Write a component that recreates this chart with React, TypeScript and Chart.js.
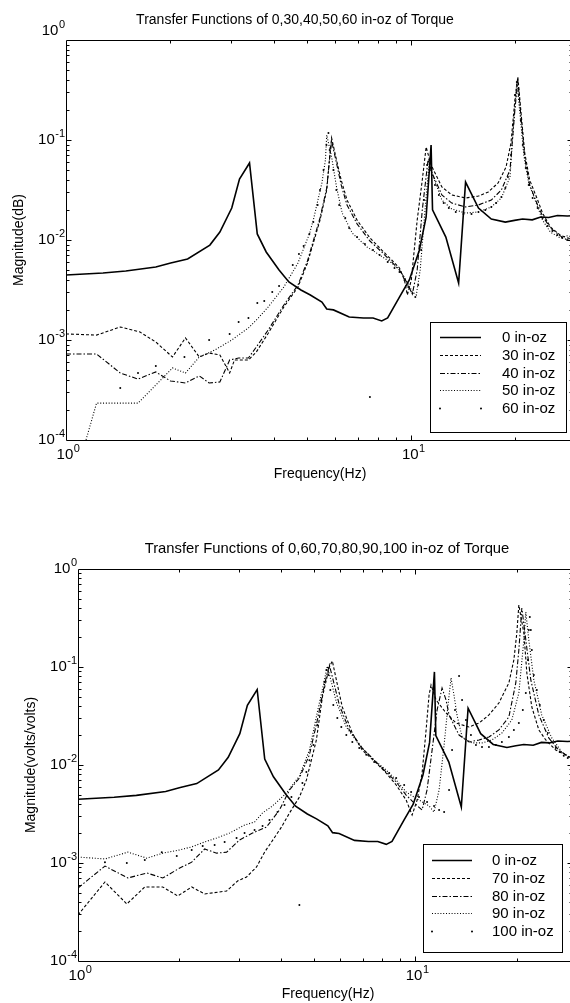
import React, { useEffect, useRef } from "react";
import { Chart, registerables } from "chart.js";

Chart.register(...registerables);

// ---------------- data (frequency in Hz, magnitude) ----------------
// 0 in-oz (same measurement in both plots)
const freq0 = [1.0, 1.28, 1.49, 1.82, 2.01, 2.25, 2.61, 2.79, 3.02, 3.18, 3.4, 3.58, 3.8, 4.14, 4.42, 4.79, 5.1, 5.51, 5.69, 5.95, 6.61, 7.27, 7.75, 8.21, 8.54, 9.24, 9.87, 10.55, 11.04, 11.41, 11.52, 12.59, 13.71, 14.36, 15.65, 17.05, 18.72, 19.9, 21.0, 22.4, 23.7, 25.0, 26.5, 28.3, 29.2];
const mag0 = [0.00447, 0.00468, 0.0049, 0.00537, 0.00589, 0.00646, 0.0089, 0.012, 0.0209, 0.0407, 0.0589, 0.0115, 0.00759, 0.00501, 0.0038, 0.00316, 0.00282, 0.0024, 0.00204, 0.002, 0.0017, 0.00166, 0.00166, 0.00155, 0.00166, 0.00269, 0.00398, 0.0079, 0.017, 0.0891, 0.02, 0.0107, 0.00372, 0.038, 0.0209, 0.0162, 0.0151, 0.0157, 0.0162, 0.0159, 0.017, 0.0168, 0.0176, 0.0174, 0.0175];

// top plot
const freq30 = [1.0, 1.226, 1.436, 1.638, 1.82, 2.034, 2.218, 2.432, 2.597, 2.79, 2.978, 3.076, 3.375, 3.558, 3.852, 4.275, 4.697, 5.003, 5.44, 5.69, 5.802, 5.878, 6.073, 6.265, 6.514, 6.965, 7.588, 8.21, 8.773, 9.243, 9.551, 9.74, 10.0, 10.4, 10.76, 11.04, 11.41, 12.26, 13.1, 14.36, 15.65, 16.71, 17.84, 18.81, 19.44, 19.95, 20.35, 20.75, 21.31, 22.02, 23.22, 23.99, 25.28, 27.0, 28.28, 29.2];
const mag30 = [0.00115, 0.00112, 0.00135, 0.0012, 0.000955, 0.000676, 0.00105, 0.000676, 0.000741, 0.000708, 0.000468, 0.000631, 0.000631, 0.000759, 0.00117, 0.00214, 0.00339, 0.00589, 0.0158, 0.0316, 0.0676, 0.105, 0.0631, 0.0398, 0.0251, 0.0158, 0.0105, 0.00794, 0.00631, 0.00525, 0.00398, 0.00282, 0.00398, 0.0158, 0.0398, 0.0851, 0.0562, 0.0339, 0.0282, 0.0263, 0.0275, 0.0302, 0.0372, 0.0537, 0.0933, 0.251, 0.427, 0.2, 0.0741, 0.0398, 0.0251, 0.0186, 0.0135, 0.0112, 0.0105, 0.0102];

const freq40 = [1.0, 1.226, 1.436, 1.616, 1.82, 2.008, 2.218, 2.432, 2.597, 2.79, 2.978, 3.162, 3.375, 3.558, 3.852, 4.275, 4.697, 5.003, 5.44, 5.69, 5.802, 5.878, 6.073, 6.265, 6.514, 6.965, 7.588, 8.21, 8.773, 9.243, 9.551, 9.87, 10.07, 10.4, 10.76, 11.18, 11.45, 12.26, 13.1, 14.36, 15.65, 17.05, 18.23, 19.31, 19.95, 20.35, 20.75, 21.31, 22.02, 23.22, 23.99, 25.28, 27.0, 28.28, 29.2];
const mag40 = [0.000724, 0.000724, 0.000468, 0.000407, 0.000479, 0.000389, 0.000372, 0.000437, 0.000372, 0.00038, 0.000631, 0.000661, 0.000661, 0.000851, 0.00126, 0.00224, 0.00355, 0.00617, 0.0166, 0.0331, 0.0661, 0.0977, 0.0589, 0.0355, 0.0224, 0.0145, 0.00977, 0.00759, 0.00603, 0.00501, 0.00417, 0.00331, 0.00288, 0.00501, 0.02, 0.0631, 0.0479, 0.0282, 0.0234, 0.0214, 0.0224, 0.0251, 0.0316, 0.0501, 0.2, 0.398, 0.178, 0.0661, 0.0355, 0.0224, 0.0174, 0.0132, 0.011, 0.01, 0.0098];

const freq50 = [1.0, 1.226, 1.616, 1.82, 2.034, 2.218, 2.432, 2.698, 3.02, 3.375, 3.605, 3.852, 4.275, 4.697, 5.068, 5.202, 5.509, 5.64, 5.69, 5.878, 6.073, 6.307, 6.75, 7.447, 8.097, 8.773, 9.243, 9.74, 10.07, 10.34, 10.61, 10.96, 11.26, 11.52, 12.26, 13.1, 14.36, 15.65, 17.05, 18.23, 19.31, 19.82, 20.21, 20.62, 21.17, 21.88, 23.22, 23.99, 25.28, 27.0, 28.28, 29.2];
const mag50 = [0.00002, 0.000234, 0.000234, 0.000355, 0.000525, 0.000468, 0.000676, 0.000794, 0.001, 0.00132, 0.00166, 0.00214, 0.00339, 0.00589, 0.0115, 0.0158, 0.0372, 0.0631, 0.112, 0.0676, 0.0339, 0.0186, 0.0117, 0.00851, 0.00708, 0.00589, 0.00501, 0.0038, 0.00302, 0.00282, 0.00501, 0.02, 0.0589, 0.0447, 0.0251, 0.0204, 0.0186, 0.0191, 0.0214, 0.0263, 0.0427, 0.158, 0.38, 0.19, 0.0708, 0.0372, 0.0214, 0.0158, 0.012, 0.0105, 0.011, 0.0108];

const freq60 = [1.436, 1.616, 1.82, 2.203, 2.597, 2.978, 3.162, 3.375, 3.581, 3.751, 3.957, 4.14, 4.536, 4.728, 4.877, 5.068, 5.202, 5.354, 5.44, 5.568, 5.679, 5.754, 5.802, 5.948, 6.066, 6.183, 6.438, 6.607, 6.965, 7.339, 7.588, 7.745, 8.097, 8.544, 8.94, 9.243, 9.551, 9.804, 10.07, 10.27, 10.47, 10.68, 10.89, 11.11, 11.26, 11.41, 11.71, 12.02, 12.41, 12.84, 13.45, 14.16, 14.94, 15.65, 16.38, 17.05, 17.61, 18.23, 18.72, 19.05, 19.44, 19.69, 19.95, 20.21, 20.49, 20.75, 21.03, 21.45, 21.88, 22.46, 23.22, 23.99, 24.8, 25.62, 26.48, 27.36, 28.28];
const mag60 = [0.000331, 0.000468, 0.00055, 0.000676, 0.001, 0.00115, 0.00151, 0.00166, 0.00234, 0.00245, 0.00302, 0.00347, 0.00562, 0.00724, 0.00871, 0.0115, 0.0151, 0.0224, 0.0316, 0.0501, 0.0891, 0.1175, 0.0794, 0.0501, 0.0316, 0.0224, 0.0166, 0.0132, 0.0107, 0.00912, 0.000269, 0.00794, 0.00708, 0.00603, 0.00525, 0.00479, 0.00398, 0.00339, 0.00295, 0.00269, 0.00355, 0.00794, 0.0251, 0.0562, 0.0631, 0.0501, 0.0355, 0.0282, 0.0234, 0.0209, 0.0191, 0.0182, 0.0182, 0.0191, 0.02, 0.0214, 0.0234, 0.0269, 0.0331, 0.0427, 0.0708, 0.141, 0.282, 0.38, 0.282, 0.158, 0.0891, 0.0525, 0.0355, 0.0263, 0.0209, 0.0166, 0.0138, 0.0123, 0.0112, 0.0105, 0.01];

// bottom plot
const freq70 = [1.0, 1.202, 1.396, 1.578, 1.784, 1.976, 2.174, 2.376, 2.76, 2.974, 3.162, 3.385, 3.576, 3.75, 4.015, 4.241, 4.537, 4.759, 5.095, 5.307, 5.567, 5.682, 5.84, 6.081, 6.511, 6.97, 7.666, 8.208, 8.787, 9.406, 9.797, 10.14, 10.49, 10.78, 11.0, 11.15, 11.54, 12.35, 13.23, 14.45, 15.47, 16.56, 17.72, 18.97, 19.63, 20.03, 20.31, 21.02, 21.45, 22.19, 23.28, 24.41, 26.13, 27.97, 28.55, 29.2];
const mag70 = [0.000295, 0.00064, 0.000382, 0.000569, 0.000569, 0.000461, 0.000569, 0.000483, 0.000518, 0.000655, 0.00072, 0.00091, 0.00129, 0.00164, 0.00233, 0.00324, 0.00471, 0.00703, 0.018, 0.0494, 0.1, 0.115, 0.0737, 0.0391, 0.0212, 0.0142, 0.0105, 0.00828, 0.00625, 0.00439, 0.00309, 0.00439, 0.00828, 0.0228, 0.0518, 0.0655, 0.0461, 0.034, 0.0268, 0.0244, 0.0268, 0.0324, 0.0429, 0.0687, 0.118, 0.222, 0.429, 0.222, 0.0868, 0.0391, 0.0228, 0.018, 0.0142, 0.0127, 0.0121, 0.012];

const freq80 = [1.0, 1.202, 1.406, 1.6, 1.784, 2.004, 2.174, 2.376, 2.578, 2.76, 3.015, 3.294, 3.625, 3.96, 4.241, 4.537, 4.858, 5.13, 5.38, 5.567, 5.761, 5.96, 6.379, 6.97, 7.666, 8.208, 8.787, 9.406, 9.931, 10.49, 10.85, 11.23, 11.62, 12.02, 12.35, 12.61, 13.5, 14.45, 15.47, 16.56, 17.72, 18.97, 19.89, 20.31, 20.73, 21.3, 22.04, 23.28, 24.91, 26.67, 28.55, 29.2];
const mag80 = [0.000556, 0.000931, 0.000703, 0.000791, 0.000703, 0.000889, 0.00102, 0.00139, 0.00126, 0.00129, 0.00172, 0.00202, 0.00233, 0.00348, 0.00556, 0.00737, 0.0127, 0.0288, 0.0655, 0.105, 0.0655, 0.0409, 0.0228, 0.0149, 0.0107, 0.00849, 0.00671, 0.00494, 0.00409, 0.00348, 0.00556, 0.0142, 0.0364, 0.0611, 0.0461, 0.0324, 0.0202, 0.0172, 0.018, 0.0193, 0.0228, 0.0309, 0.0687, 0.149, 0.4, 0.189, 0.0737, 0.0324, 0.0189, 0.0142, 0.0121, 0.0118];

const freq90 = [1.0, 1.202, 1.406, 1.6, 1.784, 2.004, 2.174, 2.376, 2.578, 2.817, 3.12, 3.34, 3.527, 3.775, 4.155, 4.537, 4.858, 5.13, 5.343, 5.49, 5.643, 5.84, 6.25, 6.829, 7.561, 8.208, 8.787, 9.406, 10.27, 11.0, 11.38, 11.78, 12.19, 12.52, 12.78, 13.04, 13.31, 13.78, 14.75, 15.79, 16.9, 18.09, 19.36, 20.31, 21.02, 21.3, 21.74, 22.5, 23.75, 25.43, 27.22, 28.55, 29.2];
const mag90 = [0.00115, 0.0011, 0.00129, 0.00112, 0.00126, 0.00136, 0.00146, 0.00164, 0.0018, 0.00202, 0.00244, 0.00262, 0.00324, 0.00382, 0.00518, 0.00773, 0.0142, 0.0348, 0.0655, 0.102, 0.0703, 0.0439, 0.0244, 0.016, 0.0112, 0.00889, 0.00703, 0.0053, 0.00439, 0.00382, 0.00331, 0.00556, 0.016, 0.0409, 0.0773, 0.0518, 0.0324, 0.0193, 0.0168, 0.0168, 0.018, 0.0212, 0.0288, 0.0543, 0.189, 0.364, 0.189, 0.0737, 0.0324, 0.0189, 0.0136, 0.0121, 0.0119];

const freq100 = [1.202, 1.396, 1.578, 1.772, 1.963, 2.174, 2.344, 2.543, 2.722, 2.954, 3.12, 3.34, 3.527, 3.698, 3.906, 4.098, 4.296, 4.537, 4.631, 4.759, 4.858, 4.991, 5.13, 5.272, 5.38, 5.455, 5.529, 5.604, 5.72, 5.877, 6.04, 6.25, 6.511, 6.829, 7.161, 7.561, 7.99, 8.377, 8.787, 9.279, 9.731, 10.27, 10.85, 11.38, 11.78, 12.19, 12.61, 12.87, 13.13, 13.5, 13.78, 14.15, 14.64, 15.15, 15.79, 16.56, 17.36, 18.09, 18.97, 19.63, 20.31, 20.87, 21.3, 21.6, 21.74, 21.89, 22.04, 22.19, 22.5, 22.96, 23.44, 24.08, 24.75, 25.43, 26.13, 26.85, 27.6, 28.36];
const mag100 = [0.00102, 0.001, 0.00107, 0.00129, 0.00118, 0.00136, 0.00149, 0.00153, 0.00164, 0.0018, 0.00202, 0.00217, 0.00239, 0.00275, 0.00331, 0.00391, 0.00471, 0.000373, 0.00655, 0.00849, 0.0112, 0.016, 0.0256, 0.0461, 0.0703, 0.0932, 0.0829, 0.0582, 0.0409, 0.0302, 0.0244, 0.0202, 0.0172, 0.0149, 0.0127, 0.0107, 0.00931, 0.00828, 0.00737, 0.00625, 0.0053, 0.00471, 0.00419, 0.00382, 0.00348, 0.00331, 0.00556, 0.0142, 0.0364, 0.081, 0.0461, 0.0288, 0.0202, 0.016, 0.0153, 0.0153, 0.016, 0.0172, 0.0193, 0.0228, 0.0268, 0.0364, 0.0543, 0.118, 0.239, 0.324, 0.239, 0.149, 0.0829, 0.0582, 0.0409, 0.0288, 0.0212, 0.0172, 0.0149, 0.0136, 0.0124, 0.0118];

// axes
const xMin = 1;
const xMax = 29.2;
const yMin = 1e-4;
const yMax = 1;
const xLabelExponents = [0, 1];
const yLabelExponents = [0, -1, -2, -3, -4];

const topLabels = ["0 in-oz", "30 in-oz", "40 in-oz", "50 in-oz", "60 in-oz"];
const bottomLabels = ["0 in-oz", "70 in-oz", "80 in-oz", "90 in-oz", "100 in-oz"];

// ---------------- styling ----------------
const FONT = '"Liberation Sans", Arial, Helvetica, sans-serif';
type Kind = "solid" | "dashed" | "dashdot" | "dotted" | "points";
const KINDS: Kind[] = ["solid", "dashed", "dashdot", "dotted", "points"];
const STYLE: Record<Kind, { dash: number[]; width: number }> = {
  solid: { dash: [], width: 1.6 },
  dashed: { dash: [3, 2], width: 1.1 },
  dashdot: { dash: [5, 2, 1.5, 2], width: 1.1 },
  dotted: { dash: [1, 1.8], width: 1.1 },
  points: { dash: [], width: 0 },
};

function series(freq: number[], mag: number[]) {
  return freq.map((f, i) => ({ x: f, y: mag[i] }));
}

function makeDataset(label: string, freq: number[], mag: number[], kind: Kind) {
  const s = STYLE[kind];
  if (kind === "points") {
    return {
      label,
      data: series(freq, mag),
      showLine: false,
      pointRadius: 1,
      pointHoverRadius: 1,
      pointBackgroundColor: "#000",
      pointBorderWidth: 0,
      borderColor: "#000",
    };
  }
  return {
    label,
    data: series(freq, mag),
    showLine: true,
    borderColor: "#000",
    borderWidth: s.width,
    borderDash: s.dash,
    pointRadius: 0,
    pointHoverRadius: 0,
    tension: 0,
    fill: false,
  };
}

function drawPow(ctx: CanvasRenderingContext2D, x: number, base: number, exp: number, align: "right" | "center") {
  ctx.textAlign = "left";
  ctx.textBaseline = "alphabetic";
  ctx.font = `15px ${FONT}`;
  const w10 = ctx.measureText("10").width;
  ctx.font = `11px ${FONT}`;
  const es = String(exp);
  const we = ctx.measureText(es).width;
  const total = w10 + we;
  const start = align === "right" ? x - total : x - total / 2;
  ctx.font = `15px ${FONT}`;
  ctx.fillText("10", start, base);
  ctx.font = `11px ${FONT}`;
  ctx.fillText(es, start + w10 + 0.5, base - 7);
}

const matlabFrame = {
  id: "matlabFrame",
  afterDraw(chart: any, _args: any, o: any) {
    const ctx: CanvasRenderingContext2D = chart.ctx;
    const a = chart.chartArea;
    const xs = chart.scales.x;
    const ys = chart.scales.y;
    ctx.save();
    ctx.strokeStyle = "#000";
    ctx.fillStyle = "#000";
    ctx.lineWidth = 1;
    ctx.setLineDash([]);
    const L = Math.round(a.left) + 0.5;
    const R = Math.round(a.right) + 0.5;
    const T = Math.round(a.top) + 0.5;
    const B = Math.round(a.bottom) + 0.5;
    ctx.beginPath();
    ctx.moveTo(L, T);
    ctx.lineTo(R, T);
    ctx.lineTo(R, B);
    ctx.lineTo(L, B);
    ctx.closePath();
    ctx.stroke();

    // ticks
    ctx.beginPath();
    for (let d = 1; d <= xs.max; d *= 10) {
      for (let k = 1; k <= 9; k++) {
        const v = k * d;
        if (v <= xs.min || v >= xs.max) continue;
        const px = Math.round(xs.getPixelForValue(v)) + 0.5;
        const len = k === 1 ? o.major : o.minor;
        ctx.moveTo(px, B);
        ctx.lineTo(px, B - len);
        ctx.moveTo(px, T);
        ctx.lineTo(px, T + len);
      }
    }
    for (let e = -4; e <= 0; e++) {
      for (let k = 1; k <= 9; k++) {
        const v = k * Math.pow(10, e);
        if (v <= ys.min * 1.0001 || v >= ys.max * 0.9999) continue;
        const py = Math.round(ys.getPixelForValue(v)) + 0.5;
        const len = k === 1 ? o.major : o.minor;
        ctx.moveTo(L, py);
        ctx.lineTo(L + len, py);
        ctx.moveTo(R, py);
        ctx.lineTo(R - len, py);
      }
    }
    ctx.stroke();

    // tick labels
    for (const e of yLabelExponents) {
      const py = ys.getPixelForValue(Math.pow(10, e));
      const dy = e === 0 ? o.topLabelDy : 0;
      drawPow(ctx, L - o.yLabelGap, py + 4 + dy, e, "right");
    }
    for (const e of xLabelExponents) {
      const px = xs.getPixelForValue(Math.pow(10, e));
      drawPow(ctx, px + 2, B + 18, e, "center");
    }

    // titles
    ctx.textAlign = "center";
    ctx.textBaseline = "alphabetic";
    ctx.font = `${o.titleSize}px ${FONT}`;
    ctx.fillText(o.title, o.titleX, o.titleY);
    ctx.font = `14px ${FONT}`;
    ctx.fillText(o.xlabel, o.xlabelX, o.xlabelY);
    ctx.save();
    ctx.translate(o.ylabelX, o.ylabelY);
    ctx.rotate(-Math.PI / 2);
    ctx.textBaseline = "middle";
    ctx.fillText(o.ylabel, 0, 0);
    ctx.restore();

    // legend
    const lg = o.legend;
    ctx.fillStyle = "#fff";
    ctx.fillRect(lg.x, lg.y, lg.w, lg.h);
    ctx.strokeStyle = "#000";
    ctx.lineWidth = 1;
    ctx.strokeRect(lg.x + 0.5, lg.y + 0.5, lg.w, lg.h);
    ctx.fillStyle = "#000";
    ctx.font = `15px ${FONT}`;
    ctx.textAlign = "left";
    ctx.textBaseline = "middle";
    lg.labels.forEach((label: string, i: number) => {
      const kind = KINDS[i];
      const y = Math.round(lg.row0 + i * lg.step) + 0.5;
      if (kind === "points") {
        ctx.beginPath();
        ctx.arc(lg.s1, y, 1, 0, Math.PI * 2);
        ctx.arc(lg.s2, y, 1, 0, Math.PI * 2);
        ctx.fill();
      } else {
        ctx.beginPath();
        ctx.setLineDash(STYLE[kind].dash);
        ctx.lineWidth = STYLE[kind].width;
        ctx.moveTo(lg.s1, y);
        ctx.lineTo(lg.s2, y);
        ctx.stroke();
        ctx.setLineDash([]);
      }
      ctx.fillText(label, lg.tx, y);
    });
    ctx.restore();
  },
};

function buildConfig(datasets: any[], padding: any, frame: any) {
  return {
    type: "scatter",
    data: { datasets },
    options: {
      animation: false,
      responsive: false,
      events: [],
      layout: { padding },
      scales: {
        x: { type: "logarithmic", min: xMin, max: xMax, display: false },
        y: { type: "logarithmic", min: yMin, max: yMax, display: false },
      },
      plugins: {
        legend: { display: false },
        title: { display: false },
        tooltip: { enabled: false },
        matlabFrame: frame,
      },
    },
    plugins: [matlabFrame],
  } as any;
}

function PlotCanvas({ config, width, height, top }: { config: any; width: number; height: number; top: number }) {
  const ref = useRef<HTMLCanvasElement>(null);
  useEffect(() => {
    if (!ref.current) return;
    const chart = new Chart(ref.current, config);
    return () => chart.destroy();
  }, []);
  return (
    <canvas
      ref={ref}
      width={width}
      height={height}
      style={{ position: "absolute", left: 0, top, width, height, display: "block" }}
    />
  );
}

export default function App() {
  const W = 580;
  const topConfig = buildConfig(
    [
      makeDataset(topLabels[0], freq0, mag0, "solid"),
      makeDataset(topLabels[1], freq30, mag30, "dashed"),
      makeDataset(topLabels[2], freq40, mag40, "dashdot"),
      makeDataset(topLabels[3], freq50, mag50, "dotted"),
      makeDataset(topLabels[4], freq60, mag60, "points"),
    ],
    { left: 66, top: 40, right: W - 572, bottom: 482 - 440 },
    {
      major: 5,
      minor: 3,
      yLabelGap: 2,
      topLabelDy: -9,
      title: "Transfer Functions of 0,30,40,50,60 in-oz of Torque",
      titleSize: 14,
      titleX: 295,
      titleY: 24,
      xlabel: "Frequency(Hz)",
      xlabelX: 320,
      xlabelY: 478,
      ylabel: "Magnitude(dB)",
      ylabelX: 19,
      ylabelY: 240,
      legend: { x: 430, y: 322, w: 136, h: 110, s1: 440, s2: 481, tx: 502, row0: 337, step: 17.8, labels: topLabels },
    }
  );
  const bottomConfig = buildConfig(
    [
      makeDataset(bottomLabels[0], freq0, mag0, "solid"),
      makeDataset(bottomLabels[1], freq70, mag70, "dashed"),
      makeDataset(bottomLabels[2], freq80, mag80, "dashdot"),
      makeDataset(bottomLabels[3], freq90, mag90, "dotted"),
      makeDataset(bottomLabels[4], freq100, mag100, "points"),
    ],
    { left: 78, top: 569 - 482, right: W - 572, bottom: 521 - (961 - 482) },
    {
      major: 5,
      minor: 3,
      yLabelGap: 2,
      topLabelDy: 0,
      title: "Transfer Functions of 0,60,70,80,90,100 in-oz of Torque",
      titleSize: 14.8,
      titleX: 327,
      titleY: 553 - 482,
      xlabel: "Frequency(Hz)",
      xlabelX: 328,
      xlabelY: 998 - 482,
      ylabel: "Magnitude(volts/volts)",
      ylabelX: 31,
      ylabelY: 765 - 482,
      legend: { x: 423, y: 844 - 482, w: 139, h: 108, s1: 432, s2: 472, tx: 492, row0: 860 - 482, step: 17.8, labels: bottomLabels },
    }
  );
  return (
    <div
      style={{
        position: "fixed",
        left: 0,
        top: 0,
        width: 570,
        height: 1003,
        overflow: "hidden",
        background: "#fff",
      }}
    >
      <PlotCanvas config={topConfig} width={W} height={482} top={0} />
      <PlotCanvas config={bottomConfig} width={W} height={521} top={482} />
    </div>
  );
}
